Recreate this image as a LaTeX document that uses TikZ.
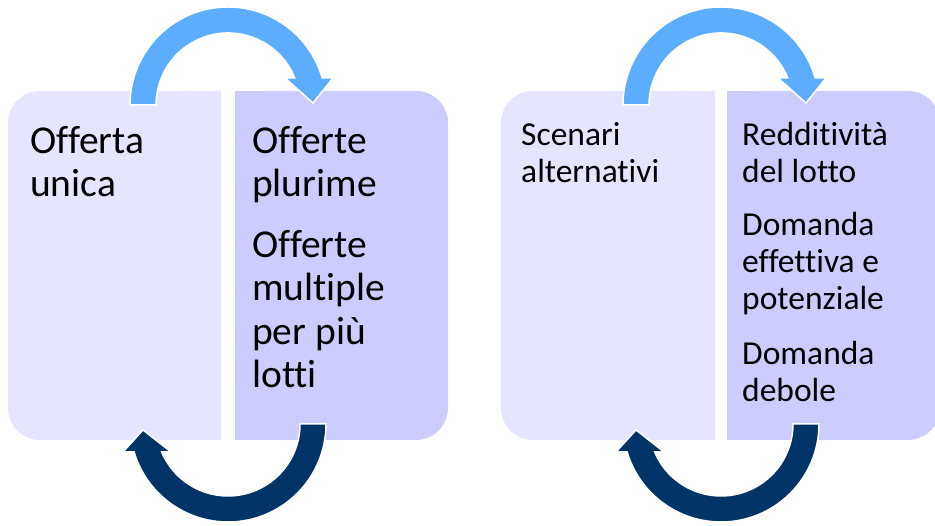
\documentclass[tikz,border=0pt]{standalone}
\usepackage{fontspec}
\setmainfont{Carlito}[Ligatures=NoCommon]
\usepackage{tikz}
\definecolor{lilaclight}{RGB}{229,229,255}
\definecolor{lilacdark}{RGB}{204,204,255}
\definecolor{skyarrow}{RGB}{93,173,255}
\definecolor{navyarrow}{RGB}{0,51,102}
\tikzset{
	uparrow/.style={fill=skyarrow, draw=white, line width=1.5pt, line join=miter},
	downarrow/.style={fill=navyarrow, draw=white, line width=1.5pt, line join=miter},
	bigtext/.style={anchor=base west, inner sep=0pt, align=left, font=\fontsize{39.5}{43.5}\selectfont},
	smalltext/.style={anchor=base west, inner sep=0pt, align=left, font=\fontsize{33.5}{37}\selectfont}
}
\def\toparrow(#1){\filldraw[uparrow, shift={(#1,0)}] (130,421) arc[start angle=180, end angle=16, radius=98] -- (333,448) -- (313,423) -- (285,448) -- (294.8,448) arc[start angle=22, end angle=180, radius=72] -- cycle;}
\def\botarrow(#1){\filldraw[downarrow, shift={(#1,0)}] (326,102) arc[start angle=0, end angle=-163.4, radius=98] -- (123,74) -- (143,96) -- (171,74) -- (161.7,74) arc[start angle=-157.1, end angle=0, radius=72] -- cycle;}

\begin{document}
\begin{tikzpicture}[x=1pt, y=1pt]
		%%%%% FRAME %%%%%
		\useasboundingbox (0,0) rectangle (935,526);
		\clip (0,0) rectangle (935,526);
		
		%%%%% FIRST CYCLE %%%%%
		\fill[lilaclight, rounded corners=32] (8,86) rectangle (221,435);
		\fill[lilaclight] (120,86) rectangle (221,435);
		\fill[lilacdark, rounded corners=32] (235,86) rectangle (448,435);
		\fill[lilacdark] (235,86) rectangle (340,435);
		
		% base anchor = last line
		\node[bigtext] (unica) at (30, 329) {Offerta\\unica};
		\node[bigtext] (plurime) at (252, 329) {Offerte\\plurime};
		\node[bigtext] (multiple) at (252, 138) {Offerte\\multiple\\per più\\lotti};
		
		\toparrow(0)
		\botarrow(0)
		
		%%%%% SECOND CYCLE %%%%%
		\fill[lilaclight, rounded corners=32] (501,86) rectangle (715,435);
		\fill[lilaclight] (610,86) rectangle (715,435);
		\fill[lilacdark, rounded corners=32] (727,86) rectangle (940,435);
		\fill[lilacdark] (727,86) rectangle (830,435);
		
		\node[smalltext] (scenari) at (521, 343) {Scenari\\alternativi};
		\node[smalltext] (redditivita) at (742, 343) {Redditività\\del lotto};
		\node[smalltext] (effettiva) at (742, 216) {Domanda\\effettiva e\\potenziale};
		\node[smalltext] (debole) at (742, 124) {Domanda\\debole};
		
		\toparrow(493)
		\botarrow(493)
\end{tikzpicture}
\end{document}
